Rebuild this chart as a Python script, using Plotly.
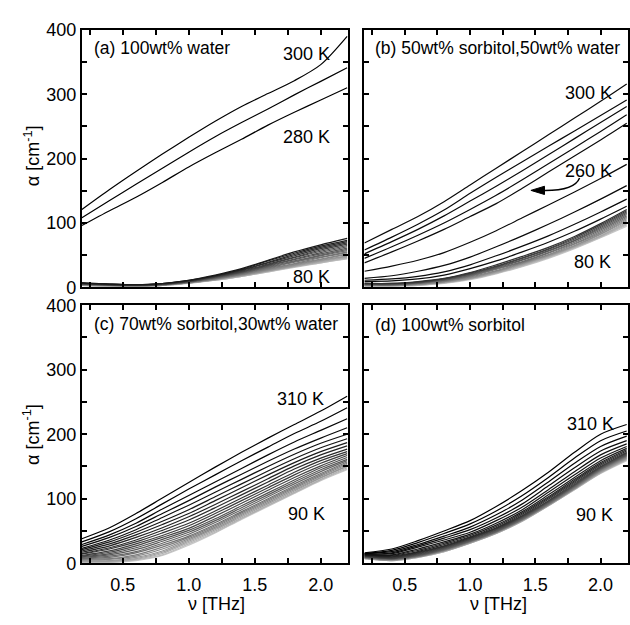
import plotly.graph_objects as go

# frequency grid (THz)
NU = [0.19, 0.4, 0.6, 0.8, 1.0, 1.2, 1.4, 1.6, 1.8, 2.0, 2.2]

# (a) 100wt% water, 300 K -> 80 K
TEMPS_A = [300, 290, 280, 270, 260, 250, 240, 230, 220, 210, 200, 190, 180,
           170, 160, 150, 140, 130, 120, 110, 100, 90, 80]
ALPHA_A = [
    [121, 152, 180, 207, 233, 258, 281, 301, 321, 346, 390],
    [108, 135, 160, 185, 210, 234, 256, 277, 299, 320, 341],
    [96, 119, 140, 163, 187, 209, 230, 252, 272, 291, 310],
    [7, 5, 4, 6, 11, 19, 29, 42, 55, 66, 76],
    [7, 5, 4, 6, 11, 18, 28, 41, 53, 64, 73],
    [6, 5, 4, 6, 10, 18, 27, 39, 51, 62, 71],
    [6, 4, 4, 5, 10, 17, 26, 38, 49, 60, 69],
    [6, 4, 3, 5, 10, 17, 25, 36, 47, 58, 67],
    [6, 4, 3, 5, 9, 16, 24, 35, 46, 56, 65],
    [5, 4, 3, 5, 9, 16, 24, 34, 44, 54, 63],
    [5, 4, 3, 5, 9, 15, 23, 33, 43, 52, 61],
    [5, 4, 3, 4, 9, 15, 22, 32, 41, 50, 59],
    [5, 3, 3, 4, 8, 14, 22, 31, 40, 49, 57],
    [5, 3, 3, 4, 8, 14, 21, 30, 39, 47, 55],
    [4, 3, 3, 4, 8, 13, 20, 29, 37, 46, 54],
    [4, 3, 2, 4, 8, 13, 20, 28, 36, 44, 52],
    [4, 3, 2, 4, 7, 13, 19, 27, 35, 43, 51],
    [4, 3, 2, 4, 7, 12, 19, 26, 34, 42, 49],
    [4, 3, 2, 3, 7, 12, 18, 26, 33, 41, 48],
    [3, 2, 2, 3, 7, 12, 18, 25, 33, 40, 47],
    [3, 2, 2, 3, 7, 11, 17, 25, 32, 39, 46],
    [3, 2, 2, 3, 7, 11, 17, 24, 32, 38, 45],
    [3, 2, 2, 3, 6, 11, 17, 24, 31, 38, 44],
]

# (b) 50wt% sorbitol, 50wt% water
TEMPS_B = [300, 290, 280, 270, 260, 250, 240, 230, 220, 210, 200, 190, 180,
           170, 160, 150, 140, 130, 120, 110, 100, 90, 80]
ALPHA_B = [
    [69, 90, 110, 133, 159, 185, 211, 237, 263, 289, 316],
    [58, 78, 98, 120, 146, 171, 195, 219, 243, 267, 291],
    [52, 71, 90, 111, 134, 157, 181, 206, 231, 256, 281],
    [45, 63, 81, 100, 121, 143, 167, 192, 217, 242, 268],
    [38, 55, 72, 90, 110, 130, 154, 179, 204, 229, 255],
    [25, 33, 42, 54, 70, 88, 108, 128, 148, 169, 191],
    [14, 18, 25, 34, 47, 63, 80, 98, 117, 137, 158],
    [11, 13, 17, 24, 35, 49, 64, 80, 98, 117, 137],
    [9, 10, 13, 19, 29, 41, 55, 70, 87, 106, 126],
    [6, 6, 9, 14, 23, 35, 48, 62, 79, 99, 121],
    [6, 6, 8, 13, 22, 33, 46, 60, 77, 97, 119],
    [5, 5, 8, 13, 21, 32, 45, 59, 75, 95, 117],
    [5, 5, 7, 12, 20, 31, 43, 57, 73, 93, 115],
    [5, 4, 7, 11, 19, 30, 42, 56, 72, 91, 113],
    [4, 4, 6, 11, 18, 29, 40, 54, 70, 89, 111],
    [4, 4, 6, 10, 17, 28, 39, 53, 68, 87, 109],
    [4, 3, 5, 9, 16, 26, 38, 51, 67, 85, 107],
    [3, 3, 5, 9, 15, 25, 37, 50, 65, 83, 105],
    [3, 3, 4, 8, 14, 24, 36, 49, 64, 82, 103],
    [3, 3, 4, 8, 14, 23, 35, 48, 63, 80, 101],
    [2, 2, 4, 7, 13, 22, 34, 47, 62, 79, 99],
    [2, 2, 3, 7, 13, 22, 33, 46, 61, 78, 97],
    [2, 2, 3, 6, 12, 21, 32, 45, 60, 77, 95],
]

# (c) 70wt% sorbitol, 30wt% water, 310 K -> 90 K
TEMPS_C = [310, 300, 290, 280, 270, 260, 250, 240, 230, 220, 210, 200, 190,
           180, 170, 160, 150, 140, 130, 120, 110, 100, 90]
ALPHA_C = [
    [38, 55, 77, 101, 125, 149, 172, 194, 215, 236, 259],
    [33, 49, 69, 92, 115, 137, 159, 180, 201, 220, 241],
    [29, 44, 62, 84, 105, 126, 147, 168, 188, 206, 224],
    [26, 40, 57, 77, 97, 118, 138, 158, 177, 194, 210],
    [23, 36, 52, 71, 90, 110, 130, 150, 169, 186, 200],
    [21, 33, 48, 65, 83, 103, 123, 143, 162, 179, 193],
    [19, 30, 44, 60, 77, 97, 117, 137, 156, 173, 187],
    [17, 27, 40, 55, 72, 91, 111, 131, 151, 168, 182],
    [15, 24, 36, 51, 67, 86, 106, 126, 146, 163, 177],
    [14, 22, 33, 47, 62, 81, 101, 121, 141, 159, 173],
    [12, 19, 30, 43, 58, 77, 97, 117, 137, 155, 170],
    [11, 17, 27, 40, 54, 73, 93, 113, 133, 151, 167],
    [10, 15, 24, 37, 51, 69, 89, 109, 129, 148, 164],
    [9, 13, 21, 34, 48, 66, 86, 106, 126, 145, 161],
    [8, 11, 18, 31, 45, 63, 83, 103, 123, 142, 159],
    [7, 9, 16, 28, 42, 60, 80, 100, 120, 139, 157],
    [6, 7, 13, 25, 40, 58, 78, 98, 118, 137, 155],
    [5, 6, 11, 22, 38, 56, 76, 96, 116, 135, 153],
    [4, 4, 9, 19, 36, 54, 74, 94, 114, 133, 151],
    [3, 3, 7, 17, 34, 52, 72, 92, 112, 132, 150],
    [2, 2, 6, 15, 32, 50, 70, 90, 110, 130, 148],
    [1, 1, 5, 13, 30, 48, 69, 89, 109, 129, 146],
    [0, 1, 4, 12, 28, 47, 68, 88, 108, 128, 145],
]

# (d) 100wt% sorbitol, 310 K -> 90 K
TEMPS_D = [310, 300, 290, 280, 270, 260, 250, 240, 230, 220, 210, 200, 190,
           180, 170, 160, 150, 140, 130, 120, 110, 100, 90]
ALPHA_D = [
    [16, 22, 35, 50, 66, 88, 113, 141, 172, 200, 215],
    [15, 20, 32, 46, 61, 81, 105, 133, 163, 190, 205],
    [15, 18, 29, 42, 56, 75, 98, 126, 155, 181, 197],
    [14, 16, 27, 39, 52, 70, 92, 120, 148, 174, 190],
    [14, 15, 25, 36, 48, 66, 87, 114, 142, 168, 185],
    [13, 13, 22, 33, 45, 62, 83, 110, 137, 163, 181],
    [13, 12, 20, 31, 43, 59, 80, 106, 133, 159, 178],
    [12, 11, 18, 29, 41, 57, 78, 103, 130, 156, 176],
    [12, 10, 17, 27, 40, 55, 76, 101, 128, 154, 174],
    [11, 9, 16, 26, 39, 54, 74, 99, 126, 152, 172],
    [11, 8, 15, 25, 38, 53, 73, 97, 124, 150, 171],
    [10, 8, 14, 24, 37, 52, 72, 96, 122, 149, 170],
    [10, 7, 13, 23, 36, 51, 71, 95, 121, 148, 169],
    [10, 7, 12, 22, 35, 50, 70, 94, 120, 147, 168],
    [9, 6, 12, 21, 34, 49, 69, 93, 119, 146, 167],
    [9, 6, 11, 21, 34, 49, 68, 92, 118, 145, 166],
    [9, 6, 11, 20, 33, 48, 68, 91, 117, 144, 165],
    [8, 5, 10, 20, 33, 48, 67, 91, 116, 143, 164],
    [8, 5, 10, 19, 32, 47, 67, 90, 116, 142, 163],
    [8, 5, 10, 19, 32, 47, 66, 90, 115, 141, 162],
    [7, 4, 9, 18, 31, 46, 66, 89, 115, 140, 161],
    [7, 4, 9, 18, 31, 46, 65, 89, 114, 140, 160],
    [7, 4, 9, 18, 31, 46, 65, 89, 114, 139, 159],
]

TICKS_X = [0.5, 1.0, 1.5, 2.0]
TICKS_Y = [0, 100, 200, 300, 400]

FONT = "Liberation Sans, Arial, sans-serif"
W, H = 630, 625
FS = 18

def g(v):
    v = int(max(0, min(220, v)))
    return f"rgb({v},{v},{v})"

def colors_a(n):
    out = []
    for i in range(n):
        if i < 3:
            out.append(g(0))
        else:
            t = (i - 3) / (n - 4)
            out.append(g(25 + 170 * t))
    return out

def colors_b(n):
    out = []
    for i in range(n):
        if i < 9:
            out.append(g(10))
        else:
            t = (i - 9) / (n - 10)
            out.append(g(50 + 150 * t))
    return out

def colors_cd(n):
    return [g(200 * (i / (n - 1)) ** 1.5) for i in range(n)]

panels = [
    ("x", "y", TEMPS_A, ALPHA_A, colors_a(len(ALPHA_A))),
    ("x2", "y2", TEMPS_B, ALPHA_B, colors_b(len(ALPHA_B))),
    ("x3", "y3", TEMPS_C, ALPHA_C, colors_cd(len(ALPHA_C))),
    ("x4", "y4", TEMPS_D, ALPHA_D, colors_cd(len(ALPHA_D))),
]

fig = go.Figure()
for xa, ya, temps, rows, cols in panels:
    # draw light (low T) first so dark curves sit on top
    for T, row, c in reversed(list(zip(temps, rows, cols))):
        fig.add_trace(go.Scatter(
            x=NU, y=row, mode="lines", xaxis=xa, yaxis=ya,
            line=dict(color=c, width=1.2, shape="spline", smoothing=0.8),
            name=f"{T} K", hoverinfo="skip"))

xdom_l = [82 / W, 349 / W]
xdom_r = [365 / W, 629 / W]
ydom_t = [1 - 286.5 / H, 1 - 20.5 / H]
ydom_b = [1 - 571.5 / H, 1 - 305 / H]

def xaxis(dom, anchor, labels):
    return dict(domain=dom, anchor=anchor, range=[0.19, 2.21],
                tickmode="array", tickvals=TICKS_X, ticktext=[f"{v:.1f}" for v in TICKS_X],
                showticklabels=labels, ticks="inside", ticklen=5, tickwidth=1.5,
                tickcolor="black", minor=dict(ticks="inside", ticklen=5, tickwidth=1.5,
                                              dtick=0.25, tick0=0.25, tickcolor="black"),
                showline=True, linecolor="black", linewidth=2, mirror="ticks",
                showgrid=False, zeroline=False, ticklabelstandoff=4,
                tickfont=dict(family=FONT, size=FS, color="black"))

def yaxis(dom, anchor, labels):
    return dict(domain=dom, anchor=anchor, range=[0, 400],
                tickmode="array", tickvals=TICKS_Y, ticktext=[str(v) for v in TICKS_Y],
                showticklabels=labels, ticks="inside", ticklen=5, tickwidth=1.5,
                tickcolor="black", minor=dict(ticks="inside", ticklen=5, tickwidth=1.5,
                                              dtick=50, tick0=0, tickcolor="black"),
                showline=True, linecolor="black", linewidth=2, mirror="ticks",
                showgrid=False, zeroline=False,
                tickfont=dict(family=FONT, size=FS, color="black"))

fig.update_layout(
    width=W, height=H, margin=dict(l=0, r=0, t=0, b=0),
    plot_bgcolor="white", paper_bgcolor="white", showlegend=False,
    font=dict(family=FONT, size=FS, color="black"),
    xaxis=xaxis(xdom_l, "y", False), yaxis=yaxis(ydom_t, "x", True),
    xaxis2=xaxis(xdom_r, "y2", False), yaxis2=yaxis(ydom_t, "x2", False),
    xaxis3=xaxis(xdom_l, "y3", True), yaxis3=yaxis(ydom_b, "x3", True),
    xaxis4=xaxis(xdom_r, "y4", True), yaxis4=yaxis(ydom_b, "x4", False),
)

ann = []
def txt(xr, yr, x, y, s, size=FS, xanchor="center"):
    ann.append(dict(xref=xr, yref=yr, x=x, y=y, text=s, showarrow=False,
                    xanchor=xanchor, yanchor="middle",
                    font=dict(family=FONT, size=size, color="black")))

TS = 17.5
txt("x", "y", 0.268, 372, "(a) 100wt% water", TS, "left")
txt("x", "y", 1.89, 363, "300 K")
txt("x", "y", 1.89, 234, "280 K")
txt("x", "y", 1.93, 16, "80 K")

txt("x2", "y2", 0.258, 372, "(b) 50wt% sorbitol,50wt% water", TS, "left")
txt("x2", "y2", 1.91, 302, "300 K")
txt("x2", "y2", 1.91, 181, "260 K")
txt("x2", "y2", 1.94, 39, "80 K")

txt("x3", "y3", 0.268, 371, "(c) 70wt% sorbitol,30wt% water", TS, "left")
txt("x3", "y3", 1.85, 254, "310 K")
txt("x3", "y3", 1.89, 76, "90 K")

txt("x4", "y4", 0.258, 369, "(d) 100wt% sorbitol", TS, "left")
txt("x4", "y4", 1.92, 216, "310 K")
txt("x4", "y4", 1.95, 74, "90 K")

# axis titles
for yc in [1 - 150 / H, 1 - 438 / H]:
    ann.append(dict(xref="paper", yref="paper", x=32 / W, y=yc,
                    text="α [cm<sup>-1</sup>]", showarrow=False, textangle=-90,
                    xanchor="center", yanchor="middle",
                    font=dict(family=FONT, size=FS, color="black")))
for xc in [217 / W, 499 / W]:
    ann.append(dict(xref="paper", yref="paper", x=xc, y=1 - 614 / H,
                    text="ν [THz]", showarrow=False,
                    xanchor="center", yanchor="middle",
                    font=dict(family=FONT, size=FS, color="black")))

fig.update_layout(annotations=ann)

# curved arrow in panel (b)
fig.add_shape(type="path", xref="x2", yref="y2",
              path="M 1.839,170 Q 1.80,150 1.56,150.6",
              line=dict(color="black", width=1.5))
fig.add_shape(type="path", xref="x2", yref="y2",
              path="M 1.466,150.6 L 1.57,157 L 1.57,144.2 Z",
              fillcolor="black", line=dict(color="black", width=1))

fig.write_html("out.html")
